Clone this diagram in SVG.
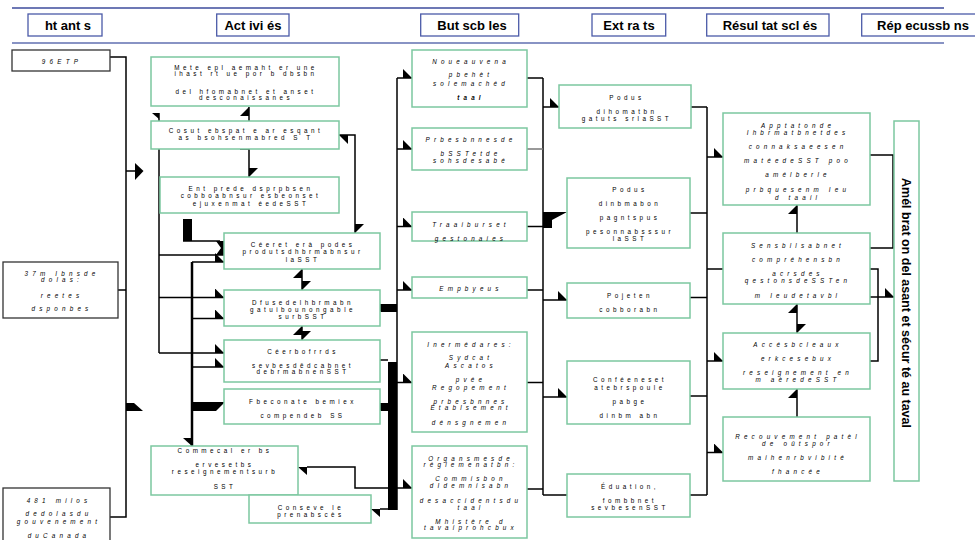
<svg xmlns="http://www.w3.org/2000/svg" width="975" height="540" viewBox="0 0 975 540">
<style>
.hb{fill:#fff;stroke:#4b5aa8;stroke-width:1.3}
.ht{font-family:'Liberation Sans',Arial,sans-serif;font-weight:bold;font-size:13px;text-anchor:middle;fill:#000}
.gb{fill:#fff;stroke:#7cc7a0;stroke-width:1.5}
.kb{fill:#fff;stroke:#333;stroke-width:1.3}
.t{font-family:'Liberation Sans',Arial,sans-serif;font-size:6.3px;letter-spacing:3.5px;text-anchor:middle;fill:#000}
.i{font-style:italic;letter-spacing:4.2px}
.c path{fill:none;stroke:#000;stroke-width:1.5}
.c polygon,.c rect{fill:#000}
</style>
<defs>
<marker id="ha" viewBox="0 0 10 10" refX="10" refY="10" markerWidth="9" markerHeight="9" markerUnits="userSpaceOnUse" orient="auto-start-reverse"><path d="M0,0 L10,10 L0,10 z" fill="#000"/></marker>
</defs>
<rect width="975" height="540" fill="#fff"/>
<g id="header">
<line x1="12" y1="8" x2="944" y2="8" stroke="#3d4b9c" stroke-width="1.5"/>
<line x1="12" y1="43" x2="944" y2="43" stroke="#8893c4" stroke-width="2"/>
<rect class="hb" x="28" y="14" width="74" height="22"/><text class="ht" x="68" y="29.5">ht ant s</text>
<rect class="hb" x="216.7" y="14" width="72.3" height="22"/><text class="ht" x="253" y="29.5">Act ivi és</text>
<rect class="hb" x="420.7" y="14" width="98" height="22"/><text class="ht" x="472" y="29.5">But scb les</text>
<rect class="hb" x="592" y="14" width="73.7" height="22"/><text class="ht" x="629" y="29.5">Ext ra ts</text>
<rect class="hb" x="706.7" y="14" width="122.3" height="22"/><text class="ht" x="770" y="29.5">Résul tat scl és</text>
<rect class="hb" x="861.7" y="14" width="120" height="22"/><text class="ht" x="923" y="29.5">Rép ecussb ns</text>
</g>
<g class="c" id="connectors">
<path d="M110,57 H126 V517 H110"/>
<path d="M118,290 H126"/>
<path d="M126,171 H136"/><polygon points="135,163 143.5,171 135,180"/>
<polygon points="126,403 134,403 143,411 126,411"/>
<path d="M249,121 V107" marker-end="url(#ha)"/>
<path d="M240,149 H249 V177" marker-end="url(#ha)"/>
<path d="M355,233 V135 H339" marker-start="url(#ha)" marker-end="url(#ha)"/>
<path d="M302,269 V290" marker-start="url(#ha)" marker-end="url(#ha)"/>
<path d="M302,326 V340" marker-start="url(#ha)" marker-end="url(#ha)"/>
<path d="M159,113 V353"/><polygon points="152,113 159,113 159,119"/>
<path d="M159,255 H224"/>
<path d="M159,297.5 H224" marker-end="url(#ha)"/>
<path d="M159,353 H224" marker-end="url(#ha)"/>
<rect x="183" y="219" width="9" height="22"/><path d="M183,241 H220"/>
<polygon points="216,241 225,241 225,255 216,255 221,248"/>
<path d="M192,262 V446" style="stroke-width:2.5"/><polygon points="183,438 193,438 193,447"/>
<path d="M192,262 H224" marker-end="url(#ha)"/>
<path d="M192,318.5 H224" marker-end="url(#ha)"/>
<path d="M192,367 H224" marker-end="url(#ha)"/>
<polygon points="192,402 225,402 216,411 192,411"/>
<path d="M397,78 V510"/>
<rect x="388" y="362" width="9" height="148"/>
<path d="M397,78 H412" marker-end="url(#ha)"/>
<path d="M397,149 H412" marker-end="url(#ha)"/>
<path d="M397,226.5 H412" marker-end="url(#ha)"/>
<path d="M397,290 H412" marker-end="url(#ha)"/>
<path d="M397,382.5 H412" marker-end="url(#ha)"/>
<path d="M397,488 H412" marker-end="url(#ha)"/>
<polygon points="370,304 397,304 397,312 381,312"/>
<path d="M388,360 H380"/><polygon points="371,360 380,360 380,368"/>
<polygon points="370,403 397,403 397,411 381,411"/>
<path d="M388,509 H380"/><polygon points="371,509 380,509 380,517"/>
<path d="M307,467 H355 V488 H397"/><polygon points="298,467 307,467 307,475"/>
<path d="M543,78 V495"/>
<path d="M527,78 H543"/>
<path d="M527,149 H543" style="stroke:#777"/>
<path d="M527,226.5 H543"/>
<path d="M527,290 H543"/>
<path d="M527,382.5 H543"/>
<path d="M527,489 H543"/>
<path d="M543,107 H559" marker-end="url(#ha)"/>
<polygon points="543,212 567,212 552,220 552,228 543,228"/>
<path d="M543,300 H567" marker-end="url(#ha)"/>
<path d="M543,397 H567" marker-end="url(#ha)"/>
<path d="M543,495 H567"/>
<path d="M707,107 V495"/>
<path d="M690,107 H707"/>
<path d="M690,213 H707"/>
<path d="M690,297.5 H707"/>
<path d="M690,396 H707"/>
<path d="M690,495 H707"/>
<path d="M707,157 H723" marker-end="url(#ha)"/>
<path d="M707,269 H723"/>
<path d="M707,361 H723" marker-end="url(#ha)"/>
<path d="M707,452.5 H723" marker-end="url(#ha)"/>
<path d="M797,233 V205" marker-end="url(#ha)"/>
<path d="M797,304 V333" marker-start="url(#ha)" marker-end="url(#ha)"/>
<path d="M797,417 V389" marker-end="url(#ha)"/>
<path d="M870,155 H893 V248 H870"/>
<path d="M870,269 H878 V361 H870"/>
<path d="M870,297 H894" marker-end="url(#ha)"/>
</g>
<g id="i1"><rect class="kb" x="12" y="50" width="98" height="21"/><text class="t i" x="62" y="64">96ETP</text></g>
<g id="i2"><rect class="kb" x="3" y="262" width="115" height="56"/>
<text class="t i" x="62" y="276">37m Ibnsde</text><text class="t i" x="62" y="282">dolas:</text><text class="t i" x="62" y="298">reetes</text><text class="t i" x="62" y="311">dsponbes</text></g>
<g id="i3"><rect class="kb" x="3" y="488" width="107" height="60"/>
<text class="t i" x="59" y="503">481 milos</text><text class="t i" x="59" y="516">dedolasdu</text><text class="t i" x="59" y="524">gouvenement</text><text class="t i" x="59" y="538">duCanada</text></g>
<g id="a1"><rect class="gb" x="151" y="57" width="188" height="49"/>
<text class="t" x="246" y="70">Mete epl aemaht er une</text><text class="t" x="246" y="76">ihast rt ue por b dbsbn</text><text class="t" x="246" y="93.5">del hfomabnet et anset</text><text class="t" x="246" y="100">desconaissanes</text></g>
<g id="a2"><rect class="gb" x="151" y="121" width="188" height="28"/>
<text class="t" x="246" y="133">Cosut ebspat e ar esqant</text><text class="t" x="246" y="139.5">as bsohsenmabred S T</text></g>
<g id="a3"><rect class="gb" x="160" y="177" width="179" height="36"/>
<text class="t" x="251" y="191">Ent prede dsprpbsen</text><text class="t" x="251" y="198">cobboabnsur esbeonset</text><text class="t" x="251" y="205.5">ejuxenmat éedeSST</text></g>
<g id="a4"><rect class="gb" x="224" y="233" width="156" height="36"/>
<text class="t" x="303" y="247">Céeret erà podes</text><text class="t" x="303" y="254">produtsdhbrmabnsur</text><text class="t" x="303" y="261.5">laSST</text></g>
<g id="a5"><rect class="gb" x="224" y="290" width="156" height="36"/>
<text class="t" x="303" y="305">Dfusedelhbrmabn</text><text class="t" x="303" y="312">gatuibounongable</text><text class="t" x="303" y="318.5">surbSST</text></g>
<g id="a6"><rect class="gb" x="224" y="340" width="156" height="42"/>
<text class="t" x="303" y="353.5">Céerbofrrds</text><text class="t" x="303" y="368">sevbesdêdcabnet</text><text class="t" x="303" y="374">debrmabnenSST</text></g>
<g id="a7"><rect class="gb" x="224" y="389" width="156" height="35"/>
<text class="t" x="303" y="404">Fbeconate bemiex</text><text class="t" x="303" y="418">compendeb SS</text></g>
<g id="a8"><rect class="gb" x="151" y="446" width="147" height="49"/>
<text class="t" x="225" y="453">Commecal er bs</text><text class="t" x="225" y="467">ervesetbs</text><text class="t" x="225" y="474">reseignementsurb</text><text class="t" x="225" y="489">SST</text></g>
<g id="a9"><rect class="gb" x="249" y="495" width="122" height="28"/>
<text class="t" x="311" y="510">Conseve le</text><text class="t" x="311" y="517">prenabscès</text></g>
<g id="b1"><rect class="gb" x="412" y="50" width="115" height="57"/>
<text class="t i" x="471" y="63.5">Noueauvena</text><text class="t i" x="471" y="77">pbehèt</text><text class="t i" x="471" y="85.5">solemachéd</text><text class="t i" x="471" y="99.5" font-weight="bold">taal</text></g>
<g id="b2"><rect class="gb" x="412" y="128" width="115" height="42"/>
<text class="t i" x="471" y="141.5">Prbesbnnesde</text><text class="t i" x="471" y="156">bSSTetde</text><text class="t i" x="471" y="162.5">sohsdesabé</text></g>
<g id="b3"><rect class="gb" x="412" y="212" width="115" height="29"/>
<text class="t i" x="471" y="226.5">Traaiburset</text><text class="t i" x="471" y="241">gestonaies</text></g>
<g id="b4"><rect class="gb" x="412" y="277" width="115" height="21"/>
<text class="t i" x="471" y="291">Empbyeus</text></g>
<g id="b5"><rect class="gb" x="412" y="332" width="115" height="100"/>
<text class="t i" x="471" y="347">Inermédares:</text><text class="t i" x="471" y="360">Sydcat</text><text class="t i" x="471" y="368">Ascatos</text><text class="t i" x="471" y="382">pvée</text><text class="t i" x="471" y="390">Regopement</text><text class="t i" x="471" y="403.5">prbesbnnes</text><text class="t i" x="471" y="410">Établsement</text><text class="t i" x="471" y="424.5">dénsgnemen</text></g>
<g id="b6"><rect class="gb" x="412" y="446" width="115" height="92"/>
<text class="t i" x="471" y="461">Organsmesde</text><text class="t i" x="471" y="467">réglemenatbn:</text><text class="t i" x="471" y="481">Commisbon</text><text class="t i" x="471" y="488">dIdemnisabn</text><text class="t i" x="471" y="503">desaccidentsdu</text><text class="t i" x="471" y="510">taal</text><text class="t i" x="471" y="523.5">Mhistère d</text><text class="t i" x="471" y="530">tavaiprohcbux</text></g>
<g id="e1"><rect class="gb" x="559" y="85" width="132" height="43"/>
<text class="t" x="627" y="99.5">Podus</text><text class="t" x="627" y="113.5">dihomatbn</text><text class="t" x="627" y="120.5">gatuts srlaSST</text></g>
<g id="e2"><rect class="gb" x="567" y="178" width="123" height="70"/>
<text class="t" x="630" y="192">Podus</text><text class="t" x="630" y="205.5">dinbmabon</text><text class="t" x="630" y="220">pagntspus</text><text class="t" x="630" y="234">pesonnabsssur</text><text class="t" x="630" y="240.5">laSST</text></g>
<g id="e3"><rect class="gb" x="567" y="283" width="123" height="35"/>
<text class="t" x="630" y="298">Pojeten</text><text class="t" x="630" y="312">cobborabn</text></g>
<g id="e4"><rect class="gb" x="567" y="361" width="123" height="63"/>
<text class="t" x="630" y="381.5">Conféeneset</text><text class="t" x="630" y="390">atebrspoule</text><text class="t" x="630" y="404">pabge</text><text class="t" x="630" y="418">dinbm abn</text></g>
<g id="e5"><rect class="gb" x="567" y="474" width="123" height="43"/>
<text class="t" x="630" y="489">Éduation,</text><text class="t" x="630" y="503">fombbnet</text><text class="t" x="630" y="510">sevbesenSST</text></g>
<g id="r1"><rect class="gb" x="723" y="113" width="147" height="92"/>
<text class="t i" x="798" y="128">Apptatonde</text><text class="t i" x="798" y="135">Ihbrmatbnetdes</text><text class="t i" x="798" y="148.5">connaksaeesen</text><text class="t i" x="798" y="163">matéedeSST poo</text><text class="t i" x="798" y="176.5">amélberle</text><text class="t i" x="798" y="192">prbquesenm Ieu</text><text class="t i" x="798" y="199.5">d taail</text></g>
<g id="r2"><rect class="gb" x="723" y="233" width="147" height="71"/>
<text class="t i" x="798" y="248">Sensbllsabnet</text><text class="t i" x="798" y="262">compréhensbn</text><text class="t i" x="798" y="276">acrsdes</text><text class="t i" x="798" y="283">qestonsdeSSTen</text><text class="t i" x="798" y="298">m Ieudetavbl</text></g>
<g id="r3"><rect class="gb" x="723" y="333" width="147" height="56"/>
<text class="t i" x="798" y="347">Accésbcleaux</text><text class="t i" x="798" y="360.5">erkcesebux</text><text class="t i" x="798" y="375">reseignement en</text><text class="t i" x="798" y="382">m aèredeSST</text></g>
<g id="r4"><rect class="gb" x="723" y="417" width="147" height="64"/>
<text class="t i" x="798" y="439">Recouvement patèl</text><text class="t i" x="798" y="445.5">de oûtspor</text><text class="t i" x="798" y="460">maihenrbvibité</text><text class="t i" x="798" y="474">fhancée</text></g>
<g id="rep"><rect class="gb" x="894" y="121" width="25" height="360"/>
<text transform="translate(906,303) rotate(90)" x="0" y="4.5" font-family="'Liberation Sans',Arial,sans-serif" font-weight="bold" font-size="13" text-anchor="middle" textLength="250" lengthAdjust="spacingAndGlyphs">Amél brat on del asant et sécur té au taval</text></g>
</svg>
